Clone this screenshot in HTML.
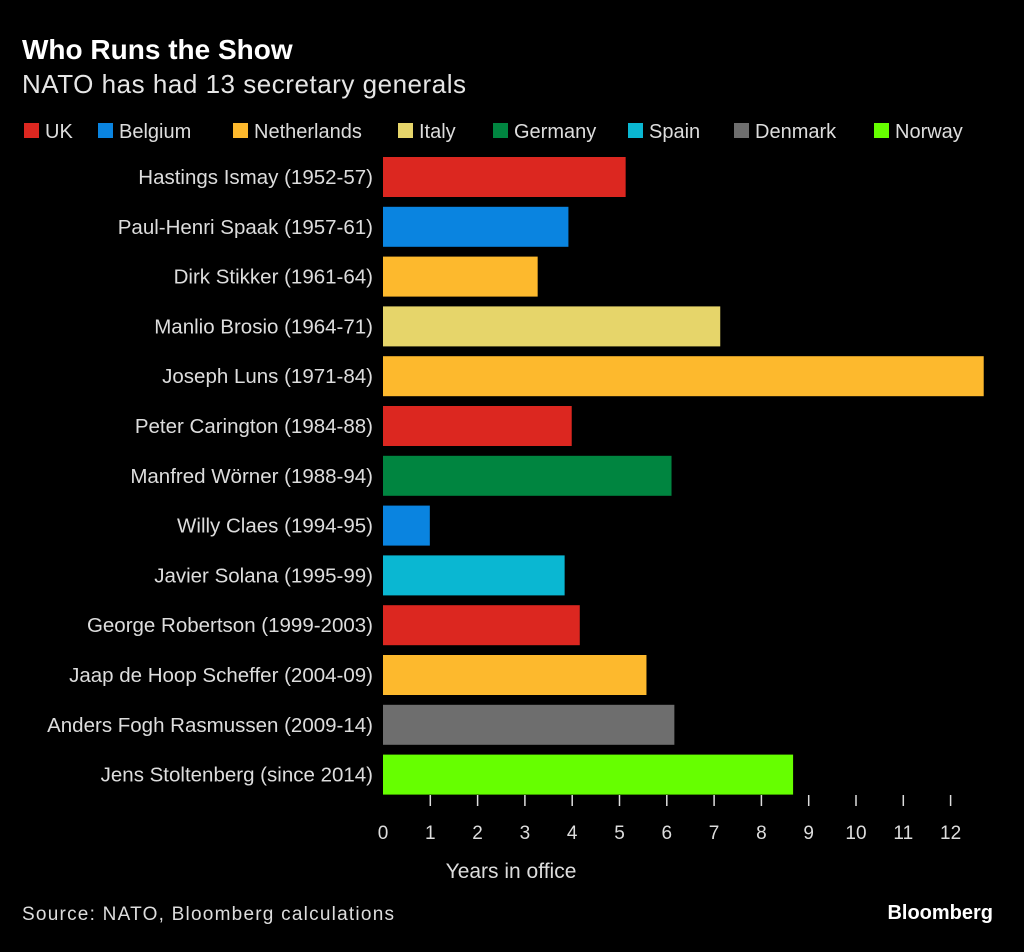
<!DOCTYPE html>
<html><head><meta charset="utf-8"><style>
body{margin:0;background:#000;width:1024px;height:947px;overflow:hidden;font-family:"Liberation Sans",sans-serif;color:#ddd}
</style></head><body>
<svg width="1024" height="947" xmlns="http://www.w3.org/2000/svg" font-family="Liberation Sans, sans-serif">
<text x="22" y="59" font-size="28" font-weight="bold" fill="#fff">Who Runs the Show</text>
<text x="22" y="93" font-size="26" fill="#e6e6e6" textLength="444">NATO has had 13 secretary generals</text>
<g id="legend"></g>
<g id="bars"></g>
<g id="axis"></g>
<text x="511" y="878" font-size="21" fill="#ddd" text-anchor="middle">Years in office</text>
<text x="22" y="920" font-size="19" fill="#ddd" textLength="372">Source: NATO, Bloomberg calculations</text>
<text x="993" y="919" font-size="20" font-weight="bold" fill="#fff" text-anchor="end">Bloomberg</text>
</svg>
<script>
const names=["Hastings Ismay (1952-57)","Paul-Henri Spaak (1957-61)","Dirk Stikker (1961-64)","Manlio Brosio (1964-71)","Joseph Luns (1971-84)","Peter Carington (1984-88)","Manfred Wörner (1988-94)","Willy Claes (1994-95)","Javier Solana (1995-99)","George Robertson (1999-2003)","Jaap de Hoop Scheffer (2004-09)","Anders Fogh Rasmussen (2009-14)","Jens Stoltenberg (since 2014)"];
const years=[5.13,3.92,3.27,7.13,12.7,3.99,6.1,0.99,3.84,4.16,5.57,6.16,8.67];
const countries=["UK","Belgium","Netherlands","Italy","Netherlands","UK","Germany","Belgium","Spain","UK","Netherlands","Denmark","Norway"];
const legendNames=["UK","Belgium","Netherlands","Italy","Germany","Spain","Denmark","Norway"];
const legendColors=["#dc2720","#0a84e0","#fdb92d","#e6d56a","#008540","#0ab7d2","#6e6e6e","#66ff00"];
const ticks=[0,1,2,3,4,5,6,7,8,9,10,11,12];
const NS="http://www.w3.org/2000/svg";
const x0=383,pxPer=47.3;
const xs=v=>x0+v*pxPer;
const ys=i=>157+i*49.8;
function mk(t,a,p){const e=document.createElementNS(NS,t);for(const k in a)e.setAttribute(k,a[k]);p.appendChild(e);return e;}
const lg=document.getElementById('legend');
const lx=[24,98,233,398,493,628,734,874];
legendNames.forEach((n,i)=>{
 const g=mk('g',{},lg);
 
 
 mk('rect',{x:lx[i],y:123,width:15,height:15,fill:legendColors[i]},g);
 const t=mk('text',{x:lx[i]+21,y:138,'font-size':20,fill:'#ddd'},g);t.textContent=n;
});
const bg=document.getElementById('bars');
names.forEach((n,i)=>{
 const c=legendColors[legendNames.indexOf(countries[i])];
 const r=mk('rect',{x:x0,y:ys(i),width:xs(years[i])-x0,height:40,fill:c},bg);
 
 
 const t=mk('text',{x:373,y:ys(i)+27,'font-size':20.5,fill:'#ddd','text-anchor':'end'},bg);
 
 
 t.textContent=n;
});
const ax=document.getElementById('axis');
ticks.forEach(v=>{
 if(v>0)mk('line',{x1:xs(v),x2:xs(v),y1:795,y2:806,stroke:'#ddd','stroke-width':1.5},ax);
 const t=mk('text',{x:xs(v),y:839,'font-size':19,fill:'#ddd','text-anchor':'middle'},ax);
 
 
 t.textContent=v;
});
</script>
</body></html>
